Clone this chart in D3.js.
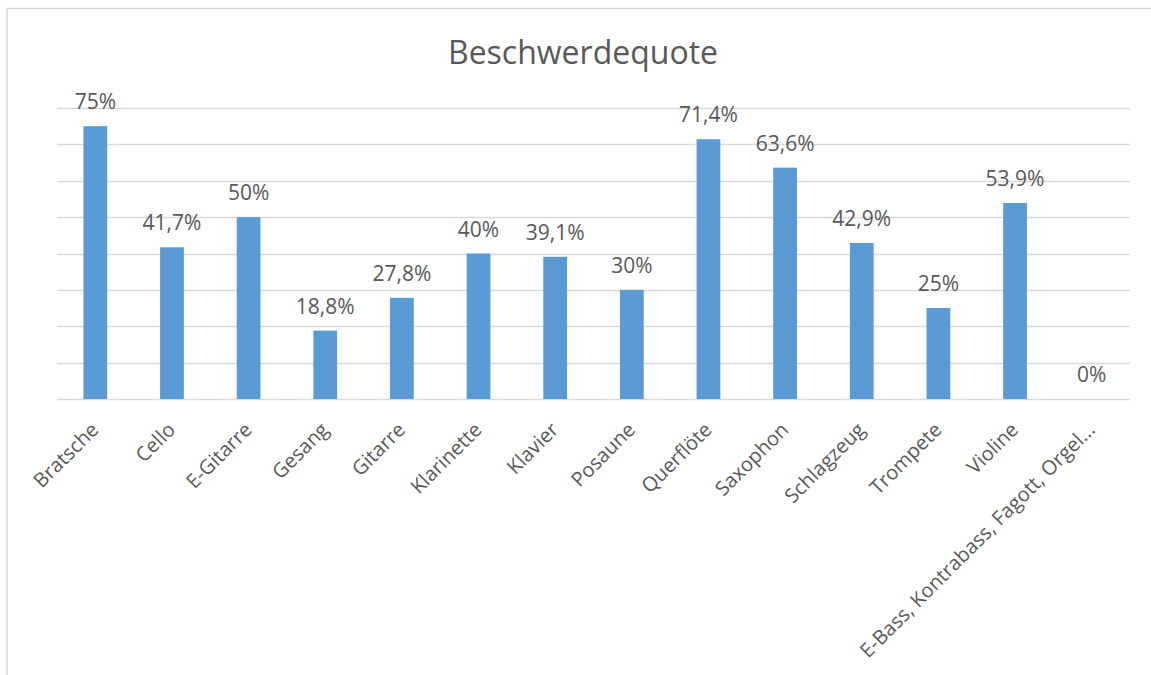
<!DOCTYPE html>
<html>
<head>
<meta charset="utf-8">
<script src="https://cdn.jsdelivr.net/npm/d3@7"></script>
<style>
  body { margin: 0; background: #fff; }
  text { font-family: "Open Sans", sans-serif; fill: #595959; }
</style>
</head>
<body>
<div id="chart"></div>
<script>
// chart data
var categories = ["Bratsche", "Cello", "E-Gitarre", "Gesang", "Gitarre", "Klarinette", "Klavier",
  "Posaune", "Querflöte", "Saxophon", "Schlagzeug", "Trompete", "Violine", "E-Bass, Kontrabass, Fagott, Orgel..."];
var values = [75, 41.7, 50, 18.8, 27.8, 40, 39.1, 30, 71.4, 63.6, 42.9, 25, 53.9, 0];
var gridTicks = [0, 10, 20, 30, 40, 50, 60, 70, 80];

function createBarChart() {
    var svgWidth = 1151;
    var svgHeight = 675;
    var left = 57, right = 1130, top = 108, bottom = 399;

    var svg = d3.select("#chart")
                .append("svg")
                .attr("width", svgWidth)
                .attr("height", svgHeight);

    // outer border of the chart area
    svg.append("path")
       .attr("d", "M7," + svgHeight + "V8.5H" + svgWidth)
       .attr("fill", "none")
       .attr("stroke", "#d9d9d9")
       .attr("stroke-width", 1.5);

    var x = d3.scaleBand()
              .domain(categories)
              .range([left, right])
              .paddingInner(0.69)
              .paddingOuter(0.345);

    var y = d3.scaleLinear()
              .domain([0, 80])
              .range([bottom, top]);

    // gridlines
    svg.selectAll("line.grid")
       .data(gridTicks)
       .enter()
       .append("line")
       .attr("class", "grid")
       .attr("x1", left)
       .attr("x2", right)
       .attr("y1", function(d) { return Math.round(y(d)) + 0.5; })
       .attr("y2", function(d) { return Math.round(y(d)) + 0.5; })
       .attr("stroke", "#d9d9d9")
       .attr("stroke-width", 1.3);

    svg.selectAll("rect")
       .data(values)
       .enter()
       .append("rect")
       .attr("x", function(d, i) { return x(categories[i]); })
       .attr("y", function(d) { return y(d); })
       .attr("width", x.bandwidth())
       .attr("height", function(d) { return bottom - y(d); })
       .attr("fill", "#5b9bd5");

    // value labels
    svg.selectAll("text.value")
       .data(values)
       .enter()
       .append("text")
       .attr("class", "value")
       .text(function(d) { return String(d).replace(".", ",") + "%"; })
       .attr("x", function(d, i) { return x(categories[i]) + x.bandwidth() / 2; })
       .attr("y", function(d) { return y(d) - 17; })
       .attr("font-size", "21px")
       .attr("text-anchor", "middle");

    // category labels
    svg.selectAll("text.cat")
       .data(categories)
       .enter()
       .append("text")
       .attr("class", "cat")
       .text(function(d) { return d; })
       .attr("transform", function(d) {
         return "translate(" + (x(d) + x.bandwidth() / 2 + 4.5) + "," + (bottom + 32) + ") rotate(-45)";
       })
       .attr("font-size", "20px")
       .attr("text-anchor", "end");

    svg.append("text")
       .attr("x", 583)
       .attr("y", 64)
       .attr("text-anchor", "middle")
       .attr("font-size", "32px")
       .text("Beschwerdequote");
}

createBarChart();
</script>
</body>
</html>
